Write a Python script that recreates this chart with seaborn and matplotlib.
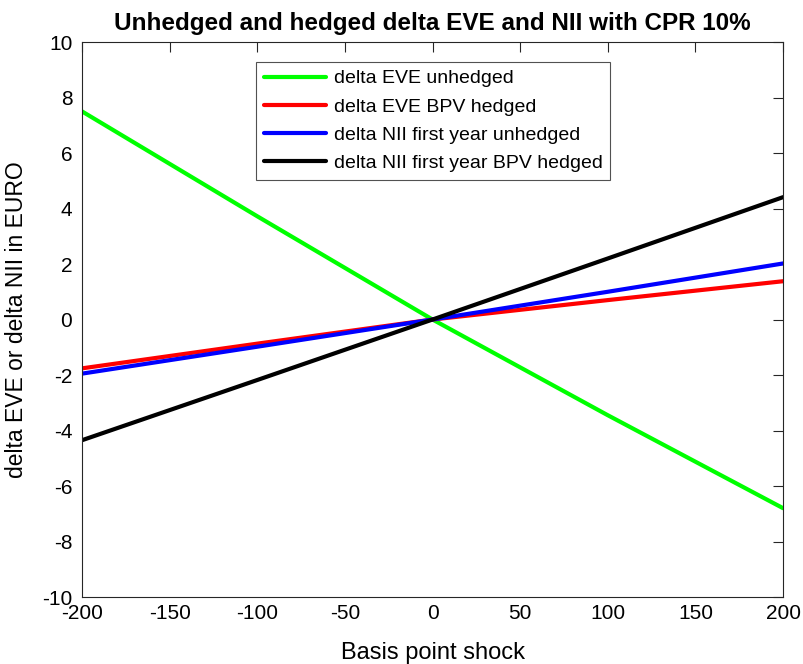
import pandas as pd
import numpy as np

import matplotlib
matplotlib.use('Agg')
import matplotlib.pyplot as plt
import seaborn as sns

# basis point shocks and the four curves
shock = [-200, -100, 0, 100, 200]
eve_unhedged = [7.5, 3.72, 0, -3.45, -6.8]
eve_bpv_hedged = [-1.76, -0.87, 0, 0.70, 1.38]
nii_unhedged = [-1.95, -0.98, 0, 1.0, 2.02]
nii_bpv_hedged = [-4.35, -2.18, 0, 2.2, 4.41]

names = ['delta EVE unhedged', 'delta EVE BPV hedged',
         'delta NII first year unhedged', 'delta NII first year BPV hedged']
colors = ['#00ff00', '#ff0000', '#0000ff', '#000000']

df = pd.DataFrame({
    'shock': shock * 4,
    'value': eve_unhedged + eve_bpv_hedged + nii_unhedged + nii_bpv_hedged,
    'series': np.repeat(names, len(shock)),
})

sns.set_style('white')
plt.rcParams['font.family'] = ['Liberation Sans', 'DejaVu Sans']
plt.rcParams['axes.unicode_minus'] = False
plt.rcParams['text.color'] = 'black'
plt.rcParams['axes.labelcolor'] = 'black'

fig = plt.figure(figsize=(8.04, 6.64), dpi=100)
ax = fig.add_axes([0.102, 0.1009, 0.872, 0.8358])

sns.lineplot(data=df, x='shock', y='value', hue='series', hue_order=names,
             palette=colors, linewidth=3, ax=ax)

ax.set_xlim(-200, 200)
ax.set_ylim(-10, 10)
ax.set_xticks(np.arange(-200, 201, 50))
ax.set_yticks(np.arange(-10, 11, 2))
ax.tick_params(direction='in', length=7, width=0.8, colors='#262626',
               labelsize=15, labelcolor='black', top=True, right=True)
ax.tick_params(axis='x', pad=5)
ax.tick_params(axis='y', pad=7)
for s in ax.spines.values():
    s.set_color('#262626')
    s.set_linewidth(0.8)

ax.set_xlabel('Basis point shock', fontsize=17, labelpad=14)
ax.set_ylabel('delta EVE or delta NII in EURO', fontsize=16.5, labelpad=10)
ax.set_title('Unhedged and hedged delta EVE and NII with CPR 10%',
             fontsize=17.5, fontweight='bold', pad=9, color='black')

leg = ax.legend(loc='upper left', bbox_to_anchor=(0.248, 0.964), fontsize=14,
                frameon=True, fancybox=False, handlelength=3.2,
                handletextpad=0.4, labelspacing=0.54, borderpad=0.4,
                borderaxespad=0)
leg.get_frame().set_edgecolor('#262626')
leg.get_frame().set_linewidth(0.8)
for line in leg.get_lines():
    line.set_linewidth(3)

plt.savefig('out.png', dpi=100)
